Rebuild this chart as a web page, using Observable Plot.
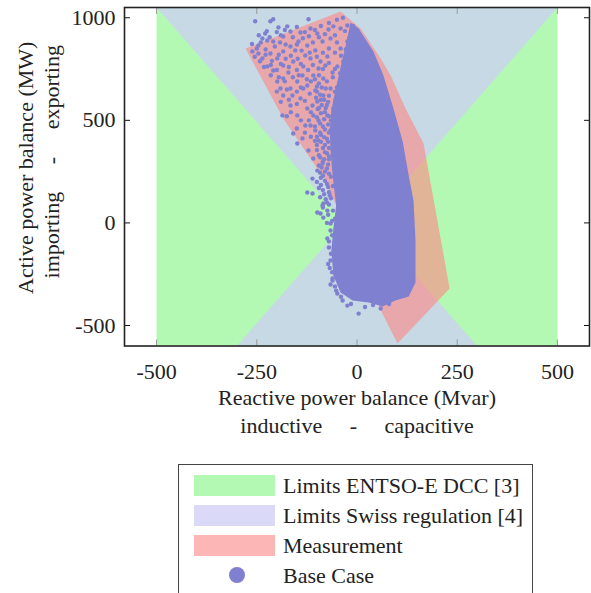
<!DOCTYPE html>
<html><head><meta charset="utf-8">
<script src="https://cdn.jsdelivr.net/npm/d3@7"></script>
<script src="https://cdn.jsdelivr.net/npm/@observablehq/plot@0.6"></script>
<style>
html,body{margin:0;padding:0;background:#fff;overflow:hidden;}
body{width:591px;height:593px;position:relative;font-family:"Liberation Serif","Times New Roman",serif;color:#222;}
#chart svg{display:block;}
#legend{position:absolute;left:178px;top:464px;width:355px;height:150px;border:1.5px solid #444;box-sizing:border-box;}
.sw{position:absolute;left:15px;width:81px;height:21px;}
.dotsw{position:absolute;left:50px;width:16px;height:16px;border-radius:50%;}
.lab{position:absolute;left:104px;font-size:22px;line-height:22px;white-space:nowrap;}
</style></head>
<body><div id="chart"></div><div id="legend"></div>
<script>
// ---- data ----
const xTicks = [-500, -250, 0, 250, 500];
const yTicks = [-500, 0, 500, 1000];
const xLabel = "Reactive power balance (Mvar)";
const xSubLabel = "inductive\u00a0\u00a0\u00a0\u00a0\u00a0-\u00a0\u00a0\u00a0\u00a0\u00a0capacitive";
const yLabel = "Active power balance (MW)";
const ySubLabel = "importing\u00a0\u00a0\u00a0\u00a0\u00a0-\u00a0\u00a0\u00a0\u00a0\u00a0exporting";
const legendLabels = ["Limits ENTSO-E DCC [3]", "Limits Swiss regulation [4]", "Measurement", "Base Case"];

// polygons as [Q (Mvar), P (MW)]
const entsoeLimits = [[-500, 1050], [500, 1050], [500, -600], [-500, -600]];
const swissLimits = [[-500, 1050], [500, 1050], [30, 0], [300, -600], [-300, -600], [-30, 0]];
const measurementHull = [[-278, 850], [-41, 1031], [9, 948], [59, 802], [84, 719], [121, 558], [166, 387],
  [231, -320], [101, -588], [41, -354], [-16, -61], [-84, 221], [-184, 509]];
const baseCaseDenseOutline = [[-16, 977], [4, 948], [41, 836], [66, 719], [91, 558], [114, 397], [129, 231],
  [141, 109], [146, -86], [146, -291], [129, -359], [96, -378], [64, -408], [29, -388], [-11, -378],
  [-41, -339], [-59, -256], [-64, -135], [-59, -27], [-52, 85], [-58, 182], [-62, 255], [-66, 353],
  [-68, 451], [-64, 548], [-54, 646], [-40, 767], [-28, 865]];
const baseCaseScatter = [
  [-254,983],[-216,983],[-209,993],[-121,993],[-174,958],[-196,953],[-229,923],[-224,889],[-209,884],[-184,909],
  [-166,933],[-141,928],[-116,948],[-99,923],[-71,943],[-59,958],[-41,948],[-24,962],[1,938],[-19,904],
  [-261,836],[-246,826],[-236,802],[-216,826],[-199,802],[-184,836],[-166,860],[-146,884],[-124,865],[-104,841],
  [-86,884],[-66,899],[-41,850],[-24,884],[-9,836],[-246,865],[-236,899],[-154,841],[-129,816],
  [-224,763],[-209,743],[-184,767],[-159,787],[-134,763],[-116,802],[-91,787],[-74,811],[-49,763],[-34,787],
  [-96,753],[-61,733],[-171,733],[-79,767],[-16,792],
  [-199,689],[-184,704],[-166,655],[-149,689],[-124,670],[-109,719],[-84,704],[-66,655],[-41,689],[-24,719],
  [-136,719],[-104,646],[-134,655],[-191,655],[-29,646],
  [-184,621],[-166,572],[-141,607],[-124,558],[-99,592],[-84,621],[-59,558],[-41,607],[-161,621],[-111,572],
  [-54,597],[-21,621],[-29,548],
  [-186,524],[-149,524],[-109,524],[-74,524],[-46,509],[-96,499],[-129,475],[-116,475],[-104,451],[-66,451],[-36,451],
  [-159,436],[-136,412],[-149,387],[-96,402],[-121,353],[-46,353],[-109,314],[-86,290],[-99,255],[-111,216],
  [-124,148],[-111,143],[-84,95],[-86,85],[-74,60],[-91,46],[-99,51],[-84,26],[-66,-3],[-66,-37],[-74,-76],
  [-66,-183],[-61,-271],[-61,-281],[-49,-344],[-36,-378],[-24,-403],[4,-442],[59,-417],
  [-262,872],[-250,850],[-240,880],[-228,845],[-218,905],[-205,860],[-192,880],[-178,870],[-160,905],[-150,870],
  [-135,900],[-120,910],[-110,880],[-95,905],[-80,920],[-55,915],[-50,880],[-30,935],[-10,960],
  [-255,810],[-242,788],[-228,820],[-212,790],[-195,820],[-178,800],[-165,815],[-148,800],[-138,840],[-118,830],
  [-100,810],[-85,830],[-70,850],[-55,830],[-40,815],[-28,845],
  [-232,760],[-215,770],[-200,745],[-190,775],[-170,760],[-150,745],[-140,775],[-122,745],[-110,770],[-85,750],
  [-70,780],[-55,750],[-42,730],[-30,760],
  [-215,720],[-195,710],[-180,690],[-160,710],[-145,720],[-125,700],[-115,690],[-95,720],[-75,690],[-60,710],
  [-50,660],[-35,690],
  [-200,640],[-175,650],[-150,640],[-140,660],[-118,630],[-100,665],[-90,600],[-70,620],[-55,640],[-45,580],[-75,575],
  [-190,590],[-170,600],[-150,580],[-130,595],[-115,540],[-95,560],[-80,540],[-65,500],[-85,470],[-120,500],
  [-140,500],[-165,540],[-175,520],
  [-150,460],[-130,440],[-115,420],[-90,430],[-75,410],[-100,380],[-80,380],[-95,330],[-75,340],[-85,300],
  [-70,310],[-80,250],[-65,225],[-90,220],[-75,190],[-60,180],[-70,150],[-85,160],[-65,120],[-75,100],[-60,60],[-55,20],
  [-70,-120],[-68,-220],[-55,-310],[-40,-360],[-15,-395],[20,-410],[40,-400],[80,-395],
  [-105,700],[-95,680],[-88,660],[-100,640],[-78,655],[-92,625],[-82,600],[-102,610],[-72,590],[-88,575],
  [-98,555],[-78,560],[-90,535],[-70,520],[-100,515],[-82,505],[-92,485],[-72,480],[-105,470],[-80,455],
  [-92,440],[-70,440],[-100,420],[-82,418],[-72,395],[-90,395],[-105,400],[-85,365],[-70,365],[-100,355],
  [-80,345],[-92,320],[-70,325],[-82,310],[-95,280],[-72,285],[-88,270],[-75,265],[-92,245],[-70,240],
  [-85,230],[-100,200],[-80,205],[-90,185],[-72,175],[-95,170],[-82,140],[-68,135],[-92,125],[-78,115],
  [-70,90],[-85,75],[-72,40],[-62,10],[-75,0],[-62,-60],[-70,-90],[-65,-150],[-72,-200],[-62,-240],[-66,-300],[-52,-330],
  [-225,935],[-200,930],[-180,940],[-150,955],[-90,960],[-70,975],[-50,990],[-35,1000],[-245,915],[-190,915],
  [-105,940],[-130,930]
];

// ---- colours ----
const cGreen = "#b3f9b3", cSwissPlot = "#c6d9e4", cSwissLegend = "#dadaf8";
const cPink = "#ff8585", cPinkLegend = "#fdb6b6", cDot = "#8080d0";

const poly = (data, fill, extra = {}) => Plot.line(data, {x: d => d[0], y: d => d[1], fill, stroke: "none", clip: true, ...extra});

const chart = Plot.plot({
  width: 591, height: 445,
  marginLeft: 124, marginRight: 2, marginTop: 7, marginBottom: 99.5,
  x: {domain: [-580, 580], label: null},
  y: {domain: [-600, 1050], label: null},
  style: {fontFamily: '"Liberation Serif", "Times New Roman", serif', fontSize: "22px", color: "#222", background: "white", overflow: "visible"},
  marks: [
    poly(entsoeLimits, cGreen),
    poly(swissLimits, cSwissPlot),
    poly(measurementHull, cPink, {fillOpacity: 0.6}),
    poly(baseCaseDenseOutline, cDot),
    Plot.dot(baseCaseScatter, {x: d => d[0], y: d => d[1], r: 2.2, fill: cDot, stroke: "none", clip: true}),
    Plot.axisX(xTicks, {anchor: "bottom", tickSize: -6, tickPadding: 23, stroke: "#999", fill: "#222", tickFormat: d => String(d), label: null}),
    Plot.axisX(xTicks, {anchor: "top", tickSize: -6, stroke: "#999", tickFormat: () => "", label: null}),
    Plot.axisY(yTicks, {anchor: "left", tickSize: -6, stroke: "#111", fill: "#222", tickFormat: d => String(d), label: null}),
    Plot.axisY(yTicks, {anchor: "right", tickSize: -6, stroke: "#111", tickFormat: () => "", label: null}),
    Plot.frame({stroke: "#222", strokeWidth: 1.6}),
    Plot.text([xLabel], {text: d => d, frameAnchor: "bottom", dy: 52, lineAnchor: "middle", textAnchor: "middle", fill: "#222"}),
    Plot.text([xSubLabel], {text: d => d, frameAnchor: "bottom", dy: 80, lineAnchor: "middle", textAnchor: "middle", fill: "#222"}),
    Plot.text([yLabel], {text: d => d, frameAnchor: "left", rotate: -90, dx: -99, dy: -9, lineAnchor: "middle", textAnchor: "middle", fill: "#222"}),
    Plot.text([ySubLabel], {text: d => d, frameAnchor: "left", rotate: -90, dx: -73, dy: -15, lineAnchor: "middle", textAnchor: "middle", fill: "#222"})
  ]
});
document.getElementById("chart").appendChild(chart);

// ---- legend ----
const legend = document.getElementById("legend");
const swatchColors = [cGreen, cSwissLegend, cPinkLegend];
legendLabels.forEach((label, i) => {
  const top = 10 + i * 30;
  if (i < 3) {
    const s = document.createElement("div");
    s.className = "sw"; s.style.top = top + "px"; s.style.background = swatchColors[i];
    legend.appendChild(s);
  } else {
    const s = document.createElement("div");
    s.className = "dotsw"; s.style.top = (top + 2) + "px"; s.style.background = cDot;
    legend.appendChild(s);
  }
  const t = document.createElement("div");
  t.className = "lab"; t.style.top = top + "px"; t.textContent = label;
  legend.appendChild(t);
});
</script>
</body></html>
